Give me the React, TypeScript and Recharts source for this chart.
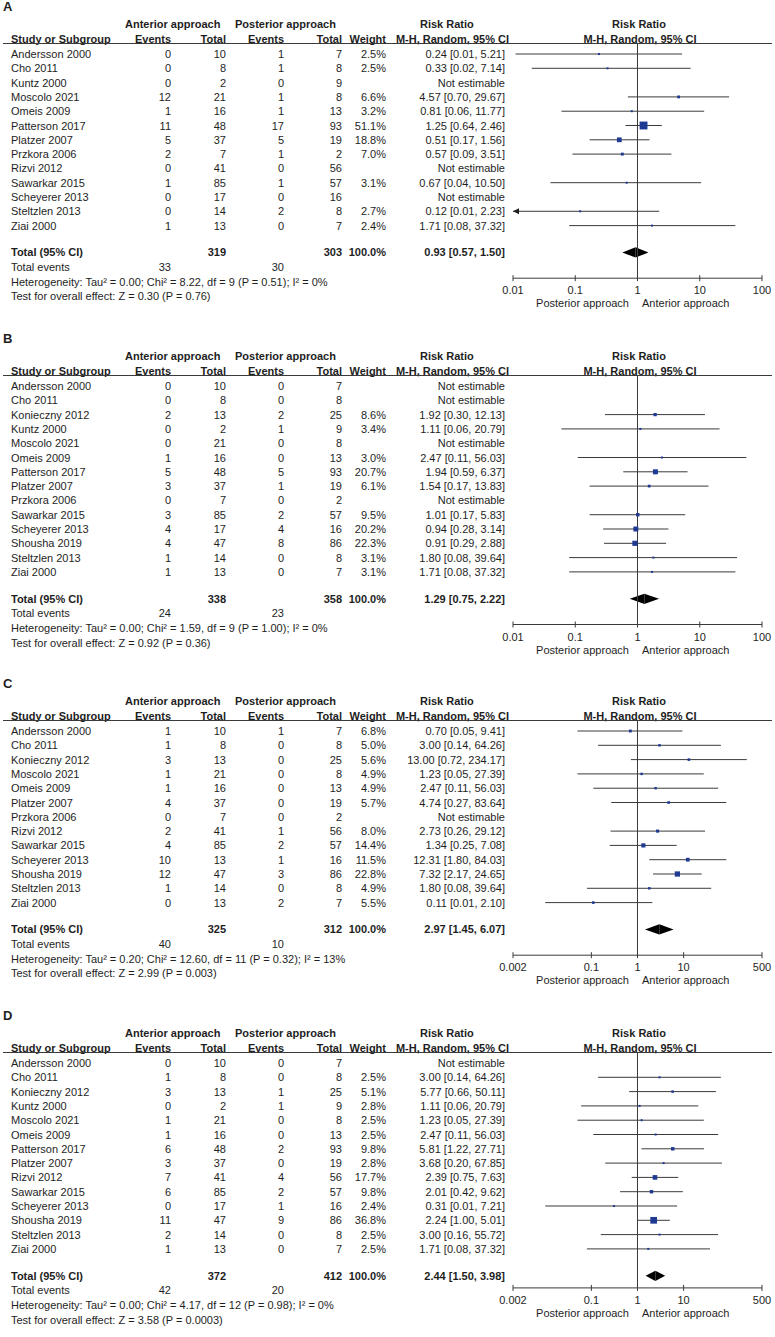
import React from 'react';
import { ScatterChart, Scatter, XAxis, YAxis, ReferenceLine, ReferenceArea } from 'recharts';

// ---------- Panel A ----------
const studiesA = ['Andersson 2000', 'Cho 2011', 'Kuntz 2000', 'Moscolo 2021', 'Omeis 2009', 'Patterson 2017', 'Platzer 2007', 'Przkora 2006', 'Rizvi 2012', 'Sawarkar 2015', 'Scheyerer 2013', 'Steltzlen 2013', 'Ziai 2000'];
const antEventsA = [0, 0, 0, 12, 1, 11, 5, 2, 0, 1, 0, 0, 1];
const antTotalA = [10, 8, 2, 21, 16, 48, 37, 7, 41, 85, 17, 14, 13];
const postEventsA = [1, 1, 0, 1, 1, 17, 5, 1, 0, 1, 0, 2, 0];
const postTotalA = [7, 8, 9, 8, 13, 93, 19, 2, 56, 57, 16, 8, 7];
const weightA = [2.5, 2.5, null, 6.6, 3.2, 51.1, 18.8, 7.0, null, 3.1, null, 2.7, 2.4];
const rrA = [0.24, 0.33, null, 4.57, 0.81, 1.25, 0.51, 0.57, null, 0.67, null, 0.12, 1.71];
const loA = [0.011, 0.02, null, 0.7, 0.06, 0.64, 0.17, 0.09, null, 0.04, null, 0.0065, 0.08];
const hiA = [5.21, 7.14, null, 29.67, 11.77, 2.46, 1.56, 3.51, null, 10.5, null, 2.23, 37.32];
const totalsA = [319, 303];
const totalEventsA = [33, 30];
const pooledA = [0.93, 0.57, 1.5];
const hetA = 'Heterogeneity: Tau² = 0.00; Chi² = 8.22, df = 9 (P = 0.51); I² = 0%';
const testA = 'Test for overall effect: Z = 0.30 (P = 0.76)';
const ticksA = [0.01, 0.1, 1, 10, 100];

// ---------- Panel B ----------
const studiesB = ['Andersson 2000', 'Cho 2011', 'Konieczny 2012', 'Kuntz 2000', 'Moscolo 2021', 'Omeis 2009', 'Patterson 2017', 'Platzer 2007', 'Przkora 2006', 'Sawarkar 2015', 'Scheyerer 2013', 'Shousha 2019', 'Steltzlen 2013', 'Ziai 2000'];
const antEventsB = [0, 0, 2, 0, 0, 1, 5, 3, 0, 3, 4, 4, 1, 1];
const antTotalB = [10, 8, 13, 2, 21, 16, 48, 37, 7, 85, 17, 47, 14, 13];
const postEventsB = [0, 0, 2, 1, 0, 0, 5, 1, 0, 2, 4, 8, 0, 0];
const postTotalB = [7, 8, 25, 9, 8, 13, 93, 19, 2, 57, 16, 86, 8, 7];
const weightB = [null, null, 8.6, 3.4, null, 3.0, 20.7, 6.1, null, 9.5, 20.2, 22.3, 3.1, 3.1];
const rrB = [null, null, 1.92, 1.11, null, 2.47, 1.94, 1.54, null, 1.01, 0.94, 0.91, 1.8, 1.71];
const loB = [null, null, 0.3, 0.06, null, 0.11, 0.59, 0.17, null, 0.17, 0.28, 0.29, 0.08, 0.08];
const hiB = [null, null, 12.13, 20.79, null, 56.03, 6.37, 13.83, null, 5.83, 3.14, 2.88, 39.64, 37.32];
const totalsB = [338, 358];
const totalEventsB = [24, 23];
const pooledB = [1.29, 0.75, 2.22];
const hetB = 'Heterogeneity: Tau² = 0.00; Chi² = 1.59, df = 9 (P = 1.00); I² = 0%';
const testB = 'Test for overall effect: Z = 0.92 (P = 0.36)';
const ticksB = [0.01, 0.1, 1, 10, 100];

// ---------- Panel C ----------
const studiesC = ['Andersson 2000', 'Cho 2011', 'Konieczny 2012', 'Moscolo 2021', 'Omeis 2009', 'Platzer 2007', 'Przkora 2006', 'Rizvi 2012', 'Sawarkar 2015', 'Scheyerer 2013', 'Shousha 2019', 'Steltzlen 2013', 'Ziai 2000'];
const antEventsC = [1, 1, 3, 1, 1, 4, 0, 2, 4, 10, 12, 1, 0];
const antTotalC = [10, 8, 13, 21, 16, 37, 7, 41, 85, 13, 47, 14, 13];
const postEventsC = [1, 0, 0, 0, 0, 0, 0, 1, 2, 1, 3, 0, 2];
const postTotalC = [7, 8, 25, 8, 13, 19, 2, 56, 57, 16, 86, 8, 7];
const weightC = [6.8, 5.0, 5.6, 4.9, 4.9, 5.7, null, 8.0, 14.4, 11.5, 22.8, 4.9, 5.5];
const rrC = [0.7, 3.0, 13.0, 1.23, 2.47, 4.74, null, 2.73, 1.34, 12.31, 7.32, 1.8, 0.11];
const loC = [0.05, 0.14, 0.72, 0.05, 0.11, 0.27, null, 0.26, 0.25, 1.8, 2.17, 0.08, 0.01];
const hiC = [9.41, 64.26, 234.17, 27.39, 56.03, 83.64, null, 29.12, 7.08, 84.03, 24.65, 39.64, 2.1];
const totalsC = [325, 312];
const totalEventsC = [40, 10];
const pooledC = [2.97, 1.45, 6.07];
const hetC = 'Heterogeneity: Tau² = 0.20; Chi² = 12.60, df = 11 (P = 0.32); I² = 13%';
const testC = 'Test for overall effect: Z = 2.99 (P = 0.003)';
const ticksC = [0.002, 0.1, 1, 10, 500];

// ---------- Panel D ----------
const studiesD = ['Andersson 2000', 'Cho 2011', 'Konieczny 2012', 'Kuntz 2000', 'Moscolo 2021', 'Omeis 2009', 'Patterson 2017', 'Platzer 2007', 'Rizvi 2012', 'Sawarkar 2015', 'Scheyerer 2013', 'Shousha 2019', 'Steltzlen 2013', 'Ziai 2000'];
const antEventsD = [0, 1, 3, 0, 1, 1, 6, 3, 7, 6, 0, 11, 2, 1];
const antTotalD = [10, 8, 13, 2, 21, 16, 48, 37, 41, 85, 17, 47, 14, 13];
const postEventsD = [0, 0, 1, 1, 0, 0, 2, 0, 4, 2, 1, 9, 0, 0];
const postTotalD = [7, 8, 25, 9, 8, 13, 93, 19, 56, 57, 16, 86, 8, 7];
const weightD = [null, 2.5, 5.1, 2.8, 2.5, 2.5, 9.8, 2.8, 17.7, 9.8, 2.4, 36.8, 2.5, 2.5];
const rrD = [null, 3.0, 5.77, 1.11, 1.23, 2.47, 5.81, 3.68, 2.39, 2.01, 0.31, 2.24, 3.0, 1.71];
const loD = [null, 0.14, 0.66, 0.06, 0.05, 0.11, 1.22, 0.2, 0.75, 0.42, 0.01, 1.0, 0.16, 0.08];
const hiD = [null, 64.26, 50.11, 20.79, 27.39, 56.03, 27.71, 67.85, 7.63, 9.62, 7.21, 5.01, 55.72, 37.32];
const totalsD = [372, 412];
const totalEventsD = [42, 20];
const pooledD = [2.44, 1.5, 3.98];
const hetD = 'Heterogeneity: Tau² = 0.00; Chi² = 4.17, df = 12 (P = 0.98); I² = 0%';
const testD = 'Test for overall effect: Z = 3.58 (P = 0.0003)';
const ticksD = [0.002, 0.1, 1, 10, 500];

const panels = [
  { label: 'A', firstY: 54, axisGap: 52.6, studies: studiesA, ae: antEventsA, at: antTotalA, pe: postEventsA, pt: postTotalA, w: weightA, rr: rrA, lo: loA, hi: hiA, totals: totalsA, tev: totalEventsA, pooled: pooledA, het: hetA, test: testA, ticks: ticksA },
  { label: 'B', firstY: 386, axisGap: 52.6, studies: studiesB, ae: antEventsB, at: antTotalB, pe: postEventsB, pt: postTotalB, w: weightB, rr: rrB, lo: loB, hi: hiB, totals: totalsB, tev: totalEventsB, pooled: pooledB, het: hetB, test: testB, ticks: ticksB },
  { label: 'C', firstY: 731, axisGap: 52.6, studies: studiesC, ae: antEventsC, at: antTotalC, pe: postEventsC, pt: postTotalC, w: weightC, rr: rrC, lo: loC, hi: hiC, totals: totalsC, tev: totalEventsC, pooled: pooledC, het: hetC, test: testC, ticks: ticksC },
  { label: 'D', firstY: 1063, axisGap: 39, studies: studiesD, ae: antEventsD, at: antTotalD, pe: postEventsD, pt: postTotalD, w: weightD, rr: rrD, lo: loD, hi: hiD, totals: totalsD, tev: totalEventsD, pooled: pooledD, het: hetD, test: testD, ticks: ticksD },
];

const FONT = 'Arial, "Liberation Sans", sans-serif';
const INK = '#1e1e1e';
const LINE = '#3a3a3a';
const BLUE = '#1f3a93';
const STEP = 14.3;

const T = ({ x, y, a = 'l', b = false, size = 11, children }: any) => {
  const w = 360;
  const left = a === 'l' ? x : a === 'r' ? x - w : x - w / 2;
  return (
    <div
      style={{
        position: 'absolute', left, top: y - 7, width: w, height: 14, lineHeight: '14px',
        fontSize: size, fontWeight: b ? 'bold' : 'normal', whiteSpace: 'nowrap',
        textAlign: a === 'l' ? 'left' : a === 'r' ? 'right' : 'center',
      }}
    >
      {children}
    </div>
  );
};

const fmtCI = (r: number, l: number, h: number) => `${r.toFixed(2)} [${l.toFixed(2)}, ${h.toFixed(2)}]`;

const Panel = ({ p }: any) => {
  const n = p.studies.length;
  const y0 = p.firstY;
  const lineY = y0 - 11;
  const lastY = y0 + (n - 1) * STEP;
  const axisY = lastY + p.axisGap;
  const totY = lastY + 26.8;
  const totIdx = n - 1 + 1.88;
  const xMin = p.ticks[0];
  const xMax = p.ticks[p.ticks.length - 1];

  const points = p.studies
    .map((s: string, i: number) => ({ x: p.rr[i], y: i, w: p.w[i] }))
    .filter((d: any) => d.x != null);

  const renderTick = (props: any) => {
    const { x, y, payload } = props;
    return (
      <g>
        <line x1={x} x2={x} y1={y - 3} y2={y + 3} stroke={LINE} />
        <text x={x} y={y + 16} textAnchor="middle" fontSize={11} fill={INK} fontFamily={FONT}>
          {String(payload.value)}
        </text>
      </g>
    );
  };

  const square = (props: any) => {
    const s = Math.max(2, 1.1 * Math.sqrt(props.payload.w));
    return <rect x={props.cx - s / 2} y={props.cy - s / 2} width={s} height={s} fill={BLUE} />;
  };

  return (
    <>
      <T x={3} y={y0 - 47} b size={13}>{p.label}</T>
      <T x={125} y={y0 - 30} b>Anterior approach</T>
      <T x={235} y={y0 - 30} b>Posterior approach</T>
      <T x={420} y={y0 - 30} b>Risk Ratio</T>
      <T x={639} y={y0 - 30} a="c" b>Risk Ratio</T>
      <T x={11} y={y0 - 15} b>Study or Subgroup</T>
      <T x={171} y={y0 - 15} a="r" b>Events</T>
      <T x={226} y={y0 - 15} a="r" b>Total</T>
      <T x={284} y={y0 - 15} a="r" b>Events</T>
      <T x={342} y={y0 - 15} a="r" b>Total</T>
      <T x={386} y={y0 - 15} a="r" b>Weight</T>
      <T x={509} y={y0 - 15} a="r" b>M-H, Random, 95% CI</T>
      <T x={640} y={y0 - 15} a="c" b>M-H, Random, 95% CI</T>
      <div style={{ position: 'absolute', left: 3, top: lineY - 0.5, width: 769, height: 1, background: LINE }} />

      {p.studies.map((s: string, i: number) => {
        const y = y0 + i * STEP;
        return (
          <React.Fragment key={s}>
            <T x={11} y={y}>{s}</T>
            <T x={171} y={y} a="r">{p.ae[i]}</T>
            <T x={226} y={y} a="r">{p.at[i]}</T>
            <T x={284} y={y} a="r">{p.pe[i]}</T>
            <T x={342} y={y} a="r">{p.pt[i]}</T>
            <T x={386} y={y} a="r">{p.w[i] != null ? `${p.w[i].toFixed(1)}%` : ''}</T>
            <T x={505} y={y} a="r">{p.rr[i] != null ? fmtCI(p.rr[i], p.lo[i], p.hi[i]) : 'Not estimable'}</T>
          </React.Fragment>
        );
      })}

      <T x={11} y={totY} b>Total (95% CI)</T>
      <T x={226} y={totY} a="r" b>{p.totals[0]}</T>
      <T x={342} y={totY} a="r" b>{p.totals[1]}</T>
      <T x={386} y={totY} a="r" b>100.0%</T>
      <T x={505} y={totY} a="r" b>{fmtCI(p.pooled[0], p.pooled[1], p.pooled[2])}</T>
      <T x={11} y={totY + 14.6}>Total events</T>
      <T x={171} y={totY + 14.6} a="r">{p.tev[0]}</T>
      <T x={284} y={totY + 14.6} a="r">{p.tev[1]}</T>
      <T x={11} y={totY + 29.4}>{p.het}</T>
      <T x={11} y={totY + 43.9}>{p.test}</T>

      <T x={629} y={axisY + 25} a="r">Posterior approach</T>
      <T x={642} y={axisY + 25}>Anterior approach</T>

      <div style={{ position: 'absolute', left: 490, top: lineY }}>
        <ScatterChart width={284} height={axisY - lineY + 30} margin={{ top: 0, right: 12, bottom: 0, left: 23 }}>
          <XAxis
            type="number"
            dataKey="x"
            scale="log"
            domain={[xMin, xMax]}
            ticks={p.ticks}
            allowDataOverflow
            height={30}
            tickSize={0}
            tickMargin={0}
            tickLine={false}
            axisLine={{ stroke: LINE }}
            tick={renderTick}
            interval={0}
          />
          <YAxis type="number" dataKey="y" domain={[-0.77, n - 1 + p.axisGap / STEP]} reversed hide allowDataOverflow />
          <ReferenceLine x={1} stroke={LINE} strokeWidth={1} ifOverflow="visible" />
          {p.studies.map((s: string, i: number) => {
            if (p.rr[i] == null) return null;
            const clipped = p.lo[i] < xMin;
            const lo = clipped ? xMin : p.lo[i];
            return (
              <ReferenceLine
                key={`ci-${s}`}
                segment={[{ x: lo, y: i }, { x: p.hi[i], y: i }]}
                stroke={LINE}
                strokeWidth={1}
                ifOverflow="visible"
                shape={(lp: any) => (
                  <g>
                    <line x1={lp.x1} y1={lp.y1} x2={lp.x2} y2={lp.y2} stroke={LINE} strokeWidth={1} />
                    {clipped && (
                      <polygon
                        points={`${lp.x1},${lp.y1} ${lp.x1 + 6},${lp.y1 - 3} ${lp.x1 + 6},${lp.y1 + 3}`}
                        fill={INK}
                      />
                    )}
                  </g>
                )}
              />
            );
          })}
          <ReferenceArea
            x1={p.pooled[1]} x2={p.pooled[0]} y1={totIdx - 0.36} y2={totIdx + 0.36}
            ifOverflow="visible"
            shape={(r: any) => (
              <polygon
                points={`${r.x},${r.y + r.height / 2} ${r.x + r.width},${r.y} ${r.x + r.width},${r.y + r.height}`}
                fill="#000"
              />
            )}
          />
          <ReferenceArea
            x1={p.pooled[0]} x2={p.pooled[2]} y1={totIdx - 0.36} y2={totIdx + 0.36}
            ifOverflow="visible"
            shape={(r: any) => (
              <polygon
                points={`${r.x},${r.y} ${r.x + r.width},${r.y + r.height / 2} ${r.x},${r.y + r.height}`}
                fill="#000"
              />
            )}
          />
          <Scatter data={points} shape={square} isAnimationActive={false} />
        </ScatterChart>
      </div>
    </>
  );
}

export default function App() {
  return (
    <div
      style={{
        position: 'absolute', left: 0, top: 0, width: 775, height: 1337,
        background: '#fff', fontFamily: FONT, color: INK, overflow: 'hidden',
      }}
    >
      {panels.map((p) => (
        <Panel key={p.label} p={p} />
      ))}
    </div>
  );
}
